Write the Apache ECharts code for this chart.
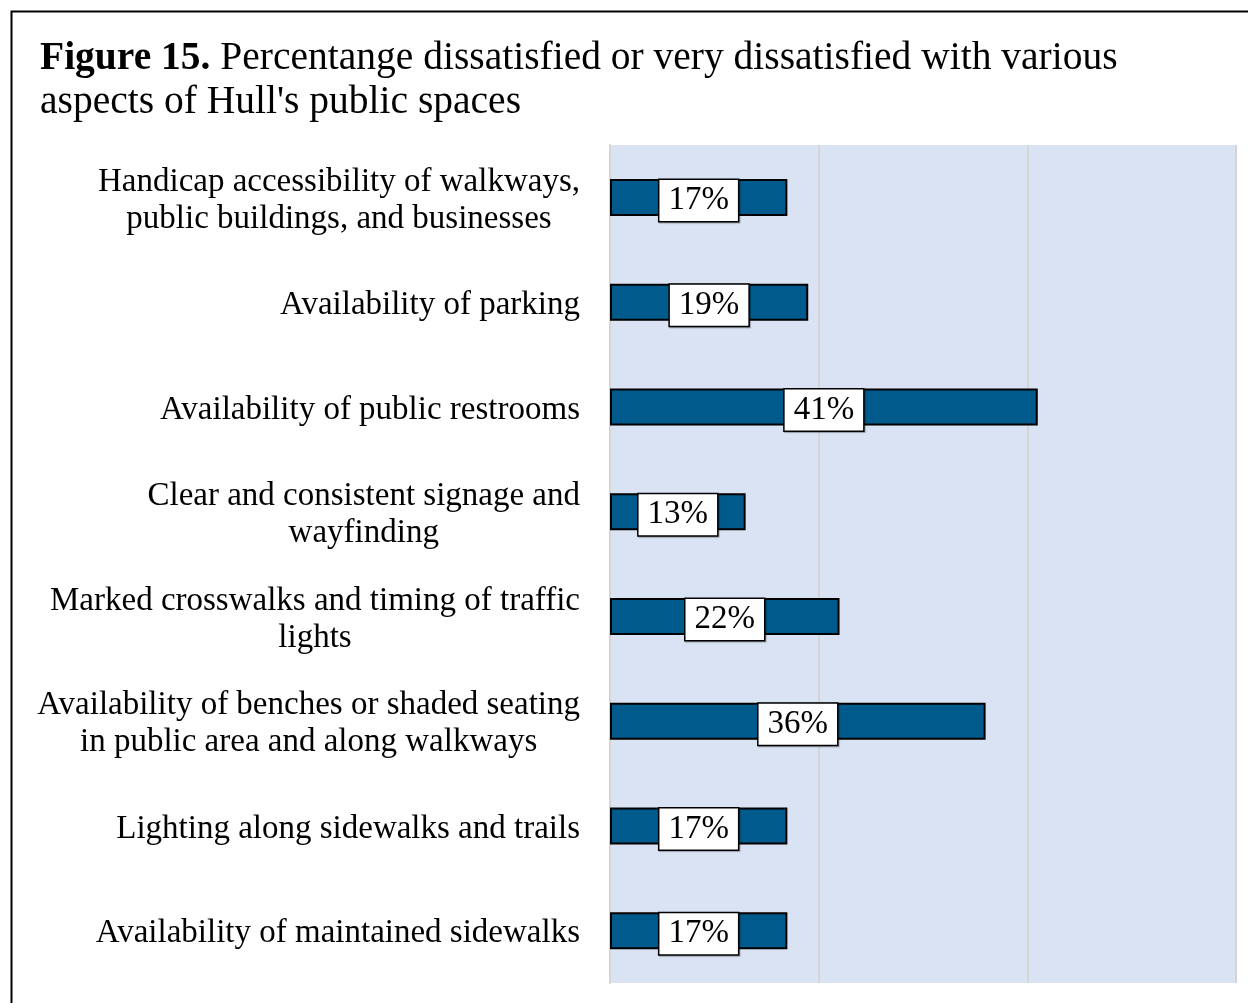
<!doctype html>
<html lang="en">
<head>
<meta charset="UTF-8">
<title>Figure 15</title>
<script src="https://cdn.jsdelivr.net/npm/echarts@6/dist/echarts.min.js"></script>
<style>
  html, body { margin: 0; padding: 0; background: #fff; }
  #main { width: 1248px; height: 1003px; }
</style>
</head>
<body>
<div id="main"></div>
<script type="text/javascript">
// categories top to bottom
var categories = [
    'Handicap accessibility of walkways,\npublic buildings, and businesses',
    'Availability of parking',
    'Availability of public restrooms',
    'Clear and consistent signage and\nwayfinding',
    'Marked crosswalks and timing of traffic\nlights',
    'Availability of benches or shaded seating\nin public area and along walkways',
    'Lighting along sidewalks and trails',
    'Availability of maintained sidewalks'
];
var values = [17, 19, 41, 13, 22, 36, 17, 17];
var xTicks = [0, 20, 40, 60];

var FONT = '"Liberation Serif", serif';

var chart = echarts.init(document.getElementById('main'));
var option = {
    backgroundColor: '#fff',
    animation: false,
    title: {
        text: '{b|Figure 15.} Percentange dissatisfied or very dissatisfied with various\naspects of Hull\'s public spaces',
        left: 35,
        top: 32,
        textStyle: {
            fontFamily: FONT,
            fontSize: 39.5,
            fontWeight: 'normal',
            color: '#000',
            lineHeight: 44,
            rich: {
                b: { fontFamily: FONT, fontSize: 39.5, fontWeight: 'bold', color: '#000', lineHeight: 44 }
            }
        }
    },
    graphic: [{
        type: 'rect',
        left: 9, top: 9,
        shape: { width: 1300, height: 1100 },
        style: { fill: 'none', stroke: '#000', lineWidth: 2 },
        silent: true
    }],
    grid: {
        left: 610, right: 12, top: 145, bottom: 20,
        show: true,
        backgroundColor: '#DAE3F3',
        borderWidth: 0
    },
    xAxis: {
        type: 'value',
        min: xTicks[0],
        max: xTicks[xTicks.length - 1],
        interval: 20,
        axisLabel: { show: false },
        axisLine: { show: false },
        axisTick: { show: false },
        splitLine: { show: true, lineStyle: { color: '#D4D4D4', width: 2 } }
    },
    yAxis: {
        type: 'category',
        inverse: true,
        data: categories,
        axisLine: { show: true, lineStyle: { color: '#D4D4D4', width: 2 } },
        axisTick: { show: false },
        axisLabel: {
            margin: 30,
            align: 'right',
            padding: [6, 0, 0, 0],
            fontFamily: FONT,
            fontSize: 33,
            color: '#000',
            lineHeight: 37,
            formatter: function (v) {
                return v.split('\n').map(function (l) { return '{c|' + l + '}'; }).join('\n');
            },
            rich: {
                c: { align: 'center', fontFamily: FONT, fontSize: 33, color: '#000', lineHeight: 37 }
            }
        }
    },
    series: [{
        type: 'bar',
        data: values,
        barWidth: 37,
        itemStyle: { color: '#005A8C', borderColor: '#000', borderWidth: 2 },
        label: {
            show: true,
            position: 'inside',
            offset: [0, 3],
            formatter: '{c}%',
            fontFamily: FONT,
            fontSize: 33,
            color: '#000',
            backgroundColor: '#fff',
            borderColor: '#000',
            borderWidth: 1.5,
            padding: [5, 9, 3, 9],
            shadowColor: 'rgba(0,0,0,0.3)',
            shadowOffsetX: 1,
            shadowOffsetY: 1,
            shadowBlur: 1
        }
    }]
};
chart.setOption(option);
</script>
</body>
</html>
